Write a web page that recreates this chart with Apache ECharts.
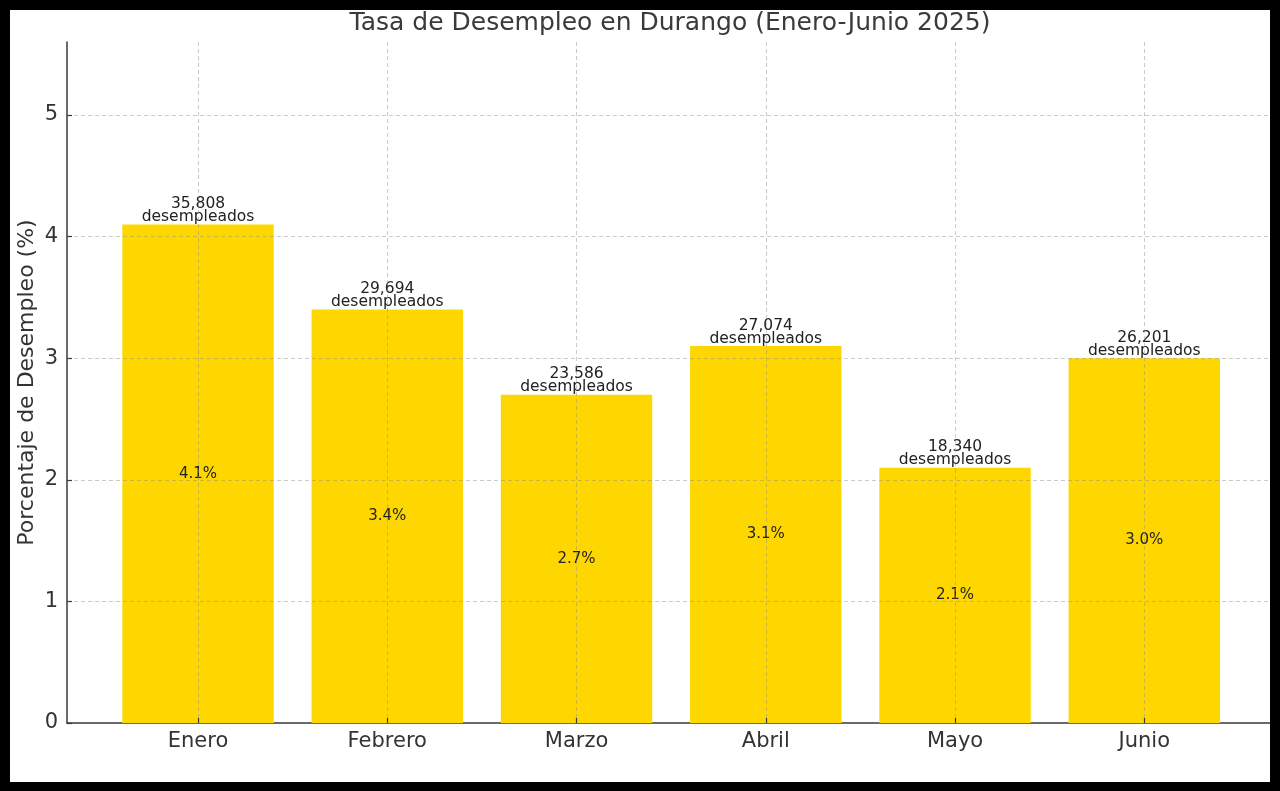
<!DOCTYPE html>
<html>
  <head>
    <meta charset="utf-8" />
    <script src="https://cdn.jsdelivr.net/npm/echarts@6.0.0/dist/echarts.min.js"></script>
    <style>
      body { margin: 0; background: #000; }
      #frame { position: absolute; left: 10px; top: 10px; width: 1260px; height: 772px; background: #fff; overflow: hidden; }
      #main { width: 1270px; height: 772px; }
    </style>
  </head>
  <body>
    <div id="frame"><div id="main"></div></div>
    <script type="text/javascript">
      var myChart = echarts.init(document.getElementById('main'));

      // data
      const months = ['Enero', 'Febrero', 'Marzo', 'Abril', 'Mayo', 'Junio'];
      const tasa = [4.1, 3.4, 2.7, 3.1, 2.1, 3.0];
      const desempleados = [35808, 29694, 23586, 27074, 18340, 26201];

      const fontFamily = 'DejaVu Sans';
      const textColor = '#333';
      const gridLine = { show: true, lineStyle: { color: 'rgba(140,140,140,0.45)', type: [4, 3], width: 1 } };

      option = {
        animation: false,
        textStyle: { fontFamily: fontFamily },
        graphic: [
          { type: 'text',
            x: 660,
            y: 13,
            style: {
              text: 'Tasa de Desempleo en Durango (Enero-Junio 2025)',
              fill: '#3a3a3a',
              font: '25px "DejaVu Sans"',
              textAlign: 'center',
              textVerticalAlign: 'middle'
            }
          }
        ],
        grid: [
          // full plot area (axis lines, horizontal grid)
          { left: 57, right: 4.7, top: 32, bottom: 59, outerBoundsMode: 'none' },
          // area between first and last category centre
          { left: 188, right: 135.7, top: 32, bottom: 59, outerBoundsMode: 'none' }
        ],
        xAxis: [
          { type: 'value',
            gridIndex: 0,
            min: 0,
            max: 1,
            axisLine: { show: true, lineStyle: { color: '#3a3a3a', width: 1.5 } },
            axisTick: { show: false },
            axisLabel: { show: false },
            splitLine: { show: false }
          },
          { type: 'category',
            gridIndex: 1,
            data: months,
            boundaryGap: false,
            z: 5,
            axisLine: { show: false },
            axisTick: { show: true, inside: true, length: 5, lineStyle: { color: '#3a3a3a', width: 1.2 } },
            axisLabel: { color: textColor, fontSize: 21, margin: 8, fontFamily: fontFamily },
            splitLine: gridLine
          }
        ],
        yAxis: [
          { type: 'value',
            gridIndex: 0,
            min: 0,
            max: 5.6,
            interval: 1,
            z: 5,
            name: 'Porcentaje de Desempleo (%)',
            nameLocation: 'middle',
            nameGap: 29,
            nameMoveOverlap: false,
            nameTextStyle: { color: textColor, fontSize: 22, fontFamily: fontFamily },
            axisLine: { show: true, lineStyle: { color: '#3a3a3a', width: 1.5 } },
            axisTick: { show: true, inside: true, length: 5, lineStyle: { color: '#3a3a3a', width: 1.2 } },
            axisLabel: { color: textColor, fontSize: 21, margin: 9, showMaxLabel: false, fontFamily: fontFamily },
            splitLine: Object.assign({ showMinLine: false, showMaxLine: false }, gridLine)
          },
          { type: 'value',
            gridIndex: 1,
            min: 0,
            max: 5.6,
            show: false,
            splitLine: { show: false }
          }
        ],
        series: [
          { name: 'Tasa',
            type: 'bar',
            xAxisIndex: 1,
            yAxisIndex: 1,
            barWidth: '80%',
            clip: false,
            itemStyle: { color: '#FFD700' },
            label: {
              show: true,
              position: 'inside',
              color: '#222',
              fontSize: 15,
              fontFamily: fontFamily,
              formatter: function (p) { return p.value.toFixed(1) + '%'; }
            },
            data: tasa
          },
          { name: 'Desempleados',
            type: 'bar',
            xAxisIndex: 1,
            yAxisIndex: 1,
            barWidth: '80%',
            barGap: '-100%',
            clip: false,
            itemStyle: { color: 'rgba(0,0,0,0)' },
            label: {
              show: true,
              position: 'top',
              distance: 1,
              color: '#222',
              fontSize: 15.5,
              lineHeight: 13,
              fontFamily: fontFamily,
              formatter: function (p) {
                return desempleados[p.dataIndex].toLocaleString('en-US') + '\ndesempleados';
              }
            },
            data: tasa
          }
        ]
      };

      myChart.setOption(option);
    </script>
  </body>
</html>
